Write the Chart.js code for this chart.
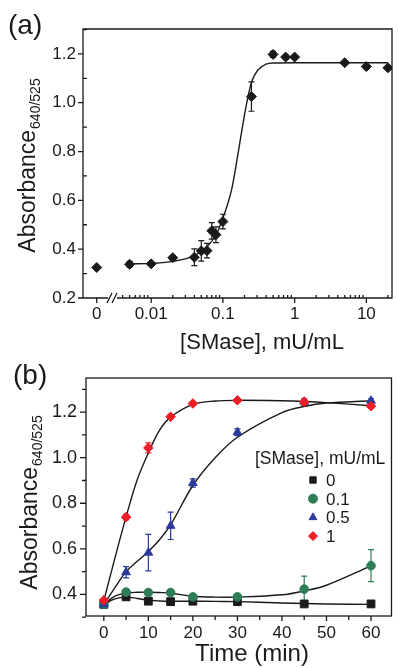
<!DOCTYPE html>
<html>
<head>
<meta charset="utf-8">
<script src="https://cdn.jsdelivr.net/npm/chart.js@4.4.1/dist/chart.umd.min.js"></script>
<style>
    html, body { margin: 0; padding: 0; background: #fff; }
    #wrapA { position: absolute; left: 0; top: 0; width: 398px; height: 362px; z-index: 2; }
    #wrapB { position: absolute; left: 0; top: 352px; width: 398px; height: 316px; z-index: 1; }
</style>
</head>
<body>
<div id="wrapA"><canvas id="chartA" width="398" height="362"></canvas></div>
<div id="wrapB"><canvas id="chartB" width="398" height="316"></canvas></div>
<script>
// ---- Datos panel (a): absorbancia vs [SMase] ----
const ZERO_POS = 0.00174;               // posición (eje log) del punto "0"
const zeroAbsA = 0.325;
const zeroErrA = 0.006;
const concA = [0.005, 0.01, 0.02, 0.04, 0.05, 0.06, 0.07, 0.08, 0.1, 0.25, 0.5, 0.75, 1, 5, 10, 20];
const absA  = [0.338, 0.34, 0.365, 0.367, 0.393, 0.394, 0.475, 0.459, 0.513, 1.025, 1.198, 1.187, 1.187, 1.164, 1.148, 1.143];
const errA  = [0.012, 0.006, 0.008, 0.034, 0.042, 0.03, 0.034, 0.032, 0.03, 0.06, 0.012, 0.006, 0.006, 0.006, 0.006, 0.006];
// curva de ajuste
const fitConcA = [0.005, 0.01, 0.02, 0.04, 0.06, 0.08, 0.096, 0.132, 0.16, 0.191, 0.224, 0.257, 0.308, 0.4, 0.5, 1, 5, 20];
const fitAbsA  = [0.34, 0.342, 0.35, 0.374, 0.41, 0.458, 0.513, 0.643, 0.779, 0.916, 1.025, 1.093, 1.134, 1.158, 1.163, 1.164, 1.164, 1.164];
const xTickPosA = [ZERO_POS, 0.01, 0.1, 1, 10];
const xTickLabelsA = ['0', '0.01', '0.1', '1', '10'];
const yTicksA = [0.2, 0.4, 0.6, 0.8, 1.0, 1.2];

// ---- Datos panel (b): cinética ----
const timeB = [0, 5, 10, 15, 20, 30, 45, 60];
const abs0  = [0.356, 0.389, 0.37, 0.368, 0.37, 0.368, 0.358, 0.358];
const err0  = [0.008, 0.01, 0.012, 0.008, 0.008, 0.01, 0.008, 0.012];
const abs01 = [0.356, 0.41, 0.408, 0.408, 0.389, 0.389, 0.423, 0.526];
const err01 = [0.008, 0.01, 0.006, 0.006, 0.01, 0.012, 0.057, 0.07];
const abs05 = [0.356, 0.497, 0.583, 0.701, 0.889, 1.112, 1.246, 1.25];
const err05 = [0.008, 0.025, 0.08, 0.06, 0.018, 0.015, 0.01, 0.008];
const abs1  = [0.374, 0.739, 1.043, 1.18, 1.238, 1.252, 1.245, 1.226];
const err1  = [0.006, 0.012, 0.022, 0.008, 0.008, 0.006, 0.015, 0.01];
// curvas de ajuste
const fitTimeB = [0, 2.5, 5, 7.5, 10, 12.5, 15, 20, 25, 30, 40, 45, 50, 60];
const fit0  = [0.356, 0.38, 0.388, 0.382, 0.374, 0.371, 0.37, 0.37, 0.369, 0.368, 0.362, 0.36, 0.358, 0.356];
const fit01 = [0.356, 0.392, 0.405, 0.409, 0.41, 0.408, 0.405, 0.392, 0.388, 0.388, 0.398, 0.415, 0.44, 0.525];
const fit05 = [0.356, 0.43, 0.5, 0.545, 0.588, 0.64, 0.705, 0.878, 1.0, 1.09, 1.198, 1.225, 1.24, 1.25];
const fit1  = [0.372, 0.56, 0.74, 0.903, 1.021, 1.12, 1.178, 1.234, 1.249, 1.252, 1.25, 1.247, 1.242, 1.228];
const seriesNamesB = ['0', '0.1', '0.5', '1'];
const xTicksB = [0, 10, 20, 30, 40, 50, 60];
const yTicksB = [0.4, 0.6, 0.8, 1.0, 1.2];

const FONT = "'Liberation Sans', Arial, sans-serif";
const INK = '#1a1a1a';
const COLORS_B = ['#1a1a1a', '#2f7d57', '#2b3a9c', '#ee1c25'];
const STYLES_B = ['rect', 'circle', 'triangle', 'rectRot'];
const RADII_B = [5.5, 4.3, 5, 4.8];

function pts(xs, ys) {
    return xs.map((x, i) => ({ x: x, y: ys[i] }));
}

// barras de error (dataset.errors)
const errorBars = {
    id: 'errorBars',
    beforeDatasetsDraw(chart) {
        const ctx = chart.ctx;
        const xs = chart.scales.x, ys = chart.scales.y;
        chart.data.datasets.forEach(ds => {
            if (!ds.errors) return;
            ctx.save();
            ctx.strokeStyle = ds.borderColor;
            ctx.lineWidth = 1.2;
            ds.data.forEach((p, i) => {
                const e = ds.errors[i];
                const x = xs.getPixelForValue(p.x);
                const y1 = ys.getPixelForValue(p.y + e);
                const y2 = ys.getPixelForValue(p.y - e);
                ctx.beginPath();
                ctx.moveTo(x, y1); ctx.lineTo(x, y2);
                ctx.moveTo(x - 3, y1); ctx.lineTo(x + 3, y1);
                ctx.moveTo(x - 3, y2); ctx.lineTo(x + 3, y2);
                ctx.stroke();
            });
            ctx.restore();
        });
    }
};

function yTitle(ctx, baseX, midY) {
    ctx.save();
    ctx.translate(baseX, midY);
    ctx.rotate(-Math.PI / 2);
    ctx.fillStyle = INK;
    ctx.textAlign = 'left';
    ctx.textBaseline = 'alphabetic';
    ctx.font = '23px ' + FONT;
    const w1 = ctx.measureText('Absorbance').width;
    ctx.font = '14px ' + FONT;
    const w2 = ctx.measureText('640/525').width;
    const x0 = -(w1 + w2) / 2;
    ctx.font = '23px ' + FONT;
    ctx.fillText('Absorbance', x0, 0);
    ctx.font = '14px ' + FONT;
    ctx.fillText('640/525', x0 + w1 + 1, 5);
    ctx.restore();
}

function text(ctx, s, x, y, size, align) {
    ctx.save();
    ctx.fillStyle = INK;
    ctx.font = size + 'px ' + FONT;
    ctx.textAlign = align || 'left';
    ctx.textBaseline = 'alphabetic';
    ctx.fillText(s, x, y);
    ctx.restore();
}

function tickY(ctx, s, v, len) {
    const y = s.getPixelForValue(v);
    ctx.moveTo(s.chart.chartArea.left, y);
    ctx.lineTo(s.chart.chartArea.left + len, y);
}
function tickX(ctx, s, v, len) {
    const x = s.getPixelForValue(v);
    ctx.moveTo(x, s.chart.chartArea.bottom);
    ctx.lineTo(x, s.chart.chartArea.bottom + len);
}

// marco, marcas y títulos del panel (a)
const decoA = {
    id: 'decoA',
    afterDraw(chart) {
        const ctx = chart.ctx, a = chart.chartArea;
        const xs = chart.scales.x, ys = chart.scales.y;
        ctx.save();
        ctx.strokeStyle = INK;
        ctx.lineWidth = 1.3;
        ctx.beginPath();
        ctx.moveTo(a.left, a.bottom); ctx.lineTo(a.left, a.top);
        ctx.lineTo(a.right, a.top); ctx.lineTo(a.right, a.bottom);
        ctx.lineTo(117, a.bottom);
        ctx.moveTo(108, a.bottom); ctx.lineTo(a.left, a.bottom);
        // corte del eje "//"
        ctx.moveTo(107, a.bottom + 5); ctx.lineTo(112, a.bottom - 5);
        ctx.moveTo(112, a.bottom + 5); ctx.lineTo(117, a.bottom - 5);
        yTicksA.forEach(v => tickY(ctx, ys, v, -5));
        for (let v = 0.3; v < 1.31; v += 0.2) tickY(ctx, ys, v, 4);
        xTickPosA.forEach(v => tickX(ctx, xs, v, 5));
        for (let k = -3; k <= 1; k++) {
            for (let m = 2; m <= 9; m++) {
                const v = m * Math.pow(10, k);
                if (v > 0.0035 && v < xs.max) tickX(ctx, xs, v, -3);
            }
        }
        ctx.stroke();
        ctx.restore();
        yTitle(ctx, 35, 166);
        text(ctx, '(a)', 8, 34, 28);
        text(ctx, '[SMase], mU/mL', 262, 349, 22, 'center');
    }
};

// marco, marcas, leyenda y títulos del panel (b)
const decoB = {
    id: 'decoB',
    afterDraw(chart) {
        const ctx = chart.ctx, a = chart.chartArea;
        const xs = chart.scales.x, ys = chart.scales.y;
        ctx.save();
        ctx.strokeStyle = INK;
        ctx.lineWidth = 1.3;
        ctx.strokeRect(a.left, a.top, a.right - a.left, a.bottom - a.top);
        ctx.beginPath();
        yTicksB.forEach(v => tickY(ctx, ys, v, -6));
        for (let v = 0.3; v < 1.36; v += 0.2) tickY(ctx, ys, v, -4);
        xTicksB.forEach(v => tickX(ctx, xs, v, 5));
        for (let v = 5; v < 60; v += 10) tickX(ctx, xs, v, 4);
        ctx.stroke();
        ctx.restore();
        yTitle(ctx, 37, 151);
        text(ctx, '(b)', 13, 32, 28);
        text(ctx, 'Time (min)', 252, 309, 24, 'center');
        // leyenda
        text(ctx, '[SMase], mU/mL', 255, 112, 17.5);
        seriesNamesB.forEach((name, i) => {
            const y = 128 + i * 18.7;
            ctx.save();
            ctx.fillStyle = COLORS_B[i];
            ctx.strokeStyle = COLORS_B[i];
            Chart.helpers.drawPoint(ctx, { pointStyle: STYLES_B[i], radius: 4.5, rotation: 0, borderWidth: 1 }, 313, y);
            ctx.restore();
            text(ctx, name, 326, y + 6, 17);
        });
    }
};

const tickFont = { family: FONT, size: 17 };

new Chart(document.getElementById('chartA'), {
    type: 'scatter',
    data: {
        datasets: [
            {
                data: [{ x: ZERO_POS, y: zeroAbsA }].concat(pts(concA, absA)),
                errors: [zeroErrA].concat(errA),
                pointStyle: 'rectRot', pointRadius: 5,
                backgroundColor: INK, borderColor: INK, borderWidth: 1,
                order: 1
            },
            {
                data: pts(fitConcA, fitAbsA),
                showLine: true, pointRadius: 0,
                borderColor: INK, borderWidth: 1.4,
                cubicInterpolationMode: 'monotone',
                order: 2
            }
        ]
    },
    options: {
        responsive: false,
        animation: false,
        layout: { padding: { top: 29, right: 3, left: 0, bottom: 0 } },
        plugins: { legend: { display: false }, tooltip: { enabled: false } },
        scales: {
            x: {
                type: 'logarithmic', min: 0.00112, max: 22.8,
                grid: { display: false, drawTicks: false }, border: { display: false },
                afterBuildTicks: s => { s.ticks = xTickPosA.map(v => ({ value: v })); },
                afterFit: s => { s.height = 64; },
                ticks: { font: tickFont, color: INK, padding: 6, maxRotation: 0, autoSkip: false,
                         callback: (v, i) => xTickLabelsA[i] }
            },
            y: {
                min: 0.2, max: 1.302,
                grid: { display: false, drawTicks: false }, border: { display: false },
                afterBuildTicks: s => { s.ticks = yTicksA.map(v => ({ value: v })); },
                afterFit: s => { s.width = 83; },
                ticks: { font: tickFont, color: INK, padding: 7, callback: v => v.toFixed(1) }
            }
        }
    },
    plugins: [errorBars, decoA]
});

const marksB = [abs0, abs01, abs05, abs1];
const errsB = [err0, err01, err05, err1];
const fitsB = [fit0, fit01, fit05, fit1];
const datasetsB = [];
marksB.forEach((vals, i) => {
    datasetsB.push({
        data: pts(timeB, vals),
        errors: errsB[i],
        pointStyle: STYLES_B[i], pointRadius: RADII_B[i],
        backgroundColor: COLORS_B[i], borderColor: COLORS_B[i], borderWidth: 1,
        order: 4 - i
    });
});
fitsB.forEach(vals => {
    datasetsB.push({
        data: pts(fitTimeB, vals),
        showLine: true, pointRadius: 0,
        borderColor: INK, borderWidth: 1.4, tension: 0.35,
        order: 10
    });
});

new Chart(document.getElementById('chartB'), {
    type: 'scatter',
    data: { datasets: datasetsB },
    options: {
        responsive: false,
        animation: false,
        layout: { padding: { top: 26, right: 1, left: 0, bottom: 0 } },
        plugins: { legend: { display: false }, tooltip: { enabled: false } },
        scales: {
            x: {
                min: -4, max: 64.6,
                grid: { display: false, drawTicks: false }, border: { display: false },
                afterBuildTicks: s => { s.ticks = xTicksB.map(v => ({ value: v })); },
                afterFit: s => { s.height = 52; },
                ticks: { font: tickFont, color: INK, padding: 7, maxRotation: 0, autoSkip: false,
                         callback: v => String(v) }
            },
            y: {
                min: 0.305, max: 1.35,
                grid: { display: false, drawTicks: false }, border: { display: false },
                afterBuildTicks: s => { s.ticks = yTicksB.map(v => ({ value: v })); },
                afterFit: s => { s.width = 86; },
                ticks: { font: { family: FONT, size: 18 }, color: INK, padding: 9, callback: v => v.toFixed(1) }
            }
        }
    },
    plugins: [errorBars, decoB]
});
</script>
</body>
</html>
